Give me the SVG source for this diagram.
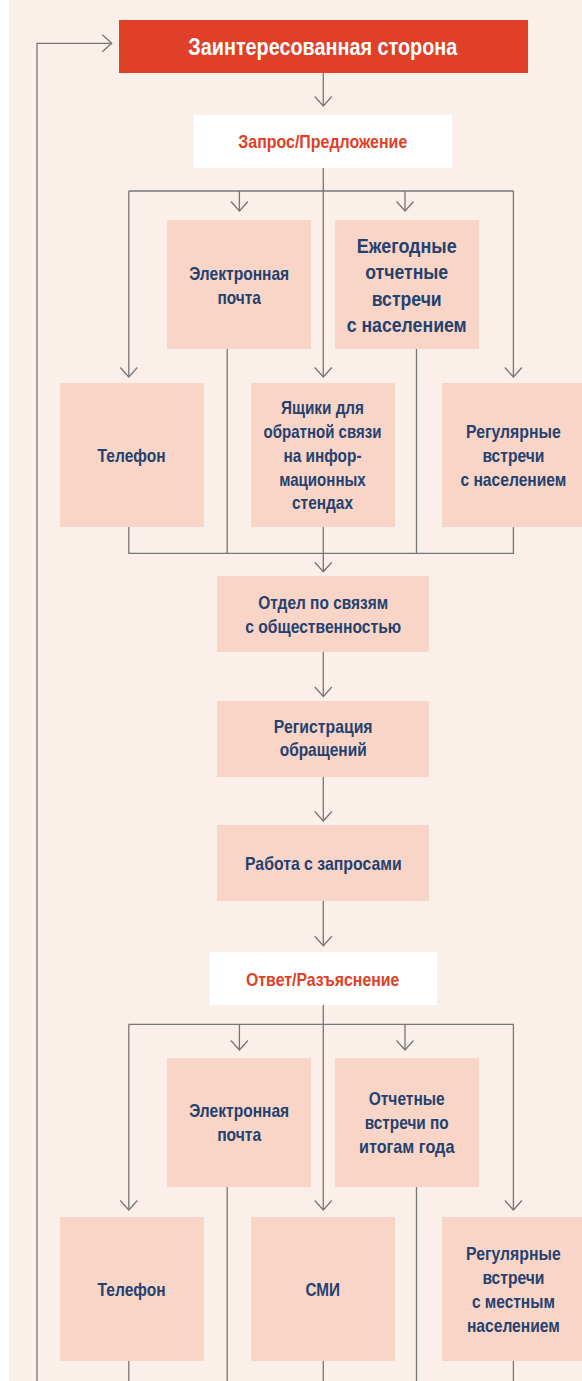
<svg xmlns="http://www.w3.org/2000/svg" width="582" height="1381" viewBox="0 0 582 1381">
<defs>
<style>
.bg{fill:#FBEFEA}
.box{fill:#F8D5C6}
.wbox{fill:#FFFFFF}
.rbox{fill:#E04027}
.t{font-family:"Liberation Sans","Arial",sans-serif;font-weight:bold;font-size:18.5px;fill:#24416F;text-anchor:middle}
.tb{font-size:20px}
.tr{fill:#E04027}
.tw{fill:#FFFFFF;font-size:23px}
.ln{fill:none;stroke:#767676;stroke-width:1.3}
</style>
<marker id="ah" viewBox="-11 -10 12 20" markerWidth="12" markerHeight="20" refX="0" refY="0" orient="auto" markerUnits="userSpaceOnUse">
<path d="M-9.5,-8.5 L0,0 L-9.5,8.5" fill="none" stroke="#767676" stroke-width="1.3"/>
</marker>
</defs>
<rect class="bg" x="9" y="0" width="573" height="1381"/>

<g id="connectors">
<path class="ln" d="M37,1381 V43.3 H111.7" marker-end="url(#ah)"/>
<path class="ln" d="M323.3,73 V106" marker-end="url(#ah)"/>
<path class="ln" d="M323.3,168 V377" marker-end="url(#ah)"/>
<path class="ln" d="M128.8,191 H513.4"/>
<path class="ln" d="M128.8,191 V377" marker-end="url(#ah)"/>
<path class="ln" d="M239.4,191 V211" marker-end="url(#ah)"/>
<path class="ln" d="M405,191 V211" marker-end="url(#ah)"/>
<path class="ln" d="M513.4,191 V377" marker-end="url(#ah)"/>
<path class="ln" d="M128.8,527 V553.3 H513.4 V527"/>
<path class="ln" d="M227.2,349 V553.3"/>
<path class="ln" d="M416.5,349 V553.3"/>
<path class="ln" d="M323.3,527 V571.7" marker-end="url(#ah)"/>
<path class="ln" d="M323.3,652 V696.5" marker-end="url(#ah)"/>
<path class="ln" d="M323.3,777 V821" marker-end="url(#ah)"/>
<path class="ln" d="M323.3,901 V945.7" marker-end="url(#ah)"/>
<path class="ln" d="M323.3,1005 V1210" marker-end="url(#ah)"/>
<path class="ln" d="M128.8,1024.3 H513.4"/>
<path class="ln" d="M128.8,1024.3 V1210" marker-end="url(#ah)"/>
<path class="ln" d="M239.4,1024.3 V1050" marker-end="url(#ah)"/>
<path class="ln" d="M405,1024.3 V1050" marker-end="url(#ah)"/>
<path class="ln" d="M513.4,1024.3 V1210" marker-end="url(#ah)"/>
<path class="ln" d="M128.8,1361 V1381"/>
<path class="ln" d="M227.2,1187 V1381"/>
<path class="ln" d="M323.3,1361 V1381"/>
<path class="ln" d="M416.5,1187 V1381"/>
<path class="ln" d="M513.4,1361 V1381"/>
</g>

<g id="stakeholder">
<rect class="rbox" x="119" y="20" width="409" height="53"/>
<text class="t tw" x="322.8" y="55" textLength="269" lengthAdjust="spacingAndGlyphs">Заинтересованная сторона</text>
</g>
<g id="request">
<rect class="wbox" x="194" y="115" width="258" height="53"/>
<text class="t tr" x="322.8" y="148.3" textLength="169" lengthAdjust="spacingAndGlyphs">Запрос/Предложение</text>
</g>
<g id="email1">
<rect class="box" x="167" y="220" width="144" height="129"/>
<text class="t" x="239.2" y="280" textLength="100" lengthAdjust="spacingAndGlyphs">Электронная</text>
<text class="t" x="239.2" y="304" textLength="43.5" lengthAdjust="spacingAndGlyphs">почта</text>
</g>
<g id="annual1">
<rect class="box" x="335" y="220" width="144" height="129"/>
<text class="t tb" x="406.7" y="252.7" textLength="100" lengthAdjust="spacingAndGlyphs">Ежегодные</text>
<text class="t tb" x="406.7" y="279.3" textLength="83" lengthAdjust="spacingAndGlyphs">отчетные</text>
<text class="t tb" x="406.7" y="306" textLength="70" lengthAdjust="spacingAndGlyphs">встречи</text>
<text class="t tb" x="406.7" y="332.3" textLength="120" lengthAdjust="spacingAndGlyphs">с населением</text>
</g>
<g id="phone1">
<rect class="box" x="60" y="383" width="144" height="144"/>
<text class="t" x="131.6" y="462" textLength="68" lengthAdjust="spacingAndGlyphs">Телефон</text>
</g>
<g id="boxes1">
<rect class="box" x="251" y="383" width="144" height="144"/>
<text class="t" x="322.5" y="414.3" textLength="83" lengthAdjust="spacingAndGlyphs">Ящики для</text>
<text class="t" x="322.5" y="438.3" textLength="118" lengthAdjust="spacingAndGlyphs">обратной связи</text>
<text class="t" x="322.5" y="462.3" textLength="78" lengthAdjust="spacingAndGlyphs">на инфор-</text>
<text class="t" x="322.5" y="485.7" textLength="86.5" lengthAdjust="spacingAndGlyphs">мационных</text>
<text class="t" x="322.5" y="509.3" textLength="61" lengthAdjust="spacingAndGlyphs">стендах</text>
</g>
<g id="regular1">
<rect class="box" x="442" y="383" width="140" height="144"/>
<text class="t" x="513.4" y="438.3" textLength="94.6" lengthAdjust="spacingAndGlyphs">Регулярные</text>
<text class="t" x="513.4" y="462" textLength="62" lengthAdjust="spacingAndGlyphs">встречи</text>
<text class="t" x="513.4" y="485.7" textLength="106" lengthAdjust="spacingAndGlyphs">с населением</text>
</g>
<g id="pr-dept">
<rect class="box" x="217" y="576" width="212" height="76"/>
<text class="t" x="323.2" y="609.3" textLength="130" lengthAdjust="spacingAndGlyphs">Отдел по связям</text>
<text class="t" x="323.2" y="632.7" textLength="156" lengthAdjust="spacingAndGlyphs">с общественностью</text>
</g>
<g id="registration">
<rect class="box" x="217" y="701" width="212" height="76"/>
<text class="t" x="323.2" y="732.7" textLength="98.7" lengthAdjust="spacingAndGlyphs">Регистрация</text>
<text class="t" x="323.2" y="756.3" textLength="87" lengthAdjust="spacingAndGlyphs">обращений</text>
</g>
<g id="processing">
<rect class="box" x="217" y="825" width="212" height="76"/>
<text class="t" x="323.3" y="870" textLength="156.6" lengthAdjust="spacingAndGlyphs">Работа с запросами</text>
</g>
<g id="response">
<rect class="wbox" x="210" y="952" width="227" height="53"/>
<text class="t tr" x="322.7" y="986" textLength="153.4" lengthAdjust="spacingAndGlyphs">Ответ/Разъяснение</text>
</g>
<g id="email2">
<rect class="box" x="167" y="1058" width="144" height="129"/>
<text class="t" x="239.2" y="1116.7" textLength="100" lengthAdjust="spacingAndGlyphs">Электронная</text>
<text class="t" x="239.2" y="1140.7" textLength="44" lengthAdjust="spacingAndGlyphs">почта</text>
</g>
<g id="annual2">
<rect class="box" x="335" y="1058" width="144" height="129"/>
<text class="t" x="406.7" y="1105" textLength="76" lengthAdjust="spacingAndGlyphs">Отчетные</text>
<text class="t" x="406.7" y="1129" textLength="84" lengthAdjust="spacingAndGlyphs">встречи по</text>
<text class="t" x="406.7" y="1153.3" textLength="95.4" lengthAdjust="spacingAndGlyphs">итогам года</text>
</g>
<g id="phone2">
<rect class="box" x="60" y="1217" width="144" height="144"/>
<text class="t" x="131.6" y="1296" textLength="68" lengthAdjust="spacingAndGlyphs">Телефон</text>
</g>
<g id="media">
<rect class="box" x="251" y="1217" width="144" height="144"/>
<text class="t" x="322.8" y="1296" textLength="34.5" lengthAdjust="spacingAndGlyphs">СМИ</text>
</g>
<g id="regular2">
<rect class="box" x="442" y="1217" width="140" height="144"/>
<text class="t" x="513.4" y="1260" textLength="94.6" lengthAdjust="spacingAndGlyphs">Регулярные</text>
<text class="t" x="513.4" y="1284" textLength="62" lengthAdjust="spacingAndGlyphs">встречи</text>
<text class="t" x="513.4" y="1307.7" textLength="83" lengthAdjust="spacingAndGlyphs">с местным</text>
<text class="t" x="513.4" y="1331.7" textLength="93" lengthAdjust="spacingAndGlyphs">населением</text>
</g>
</svg>
